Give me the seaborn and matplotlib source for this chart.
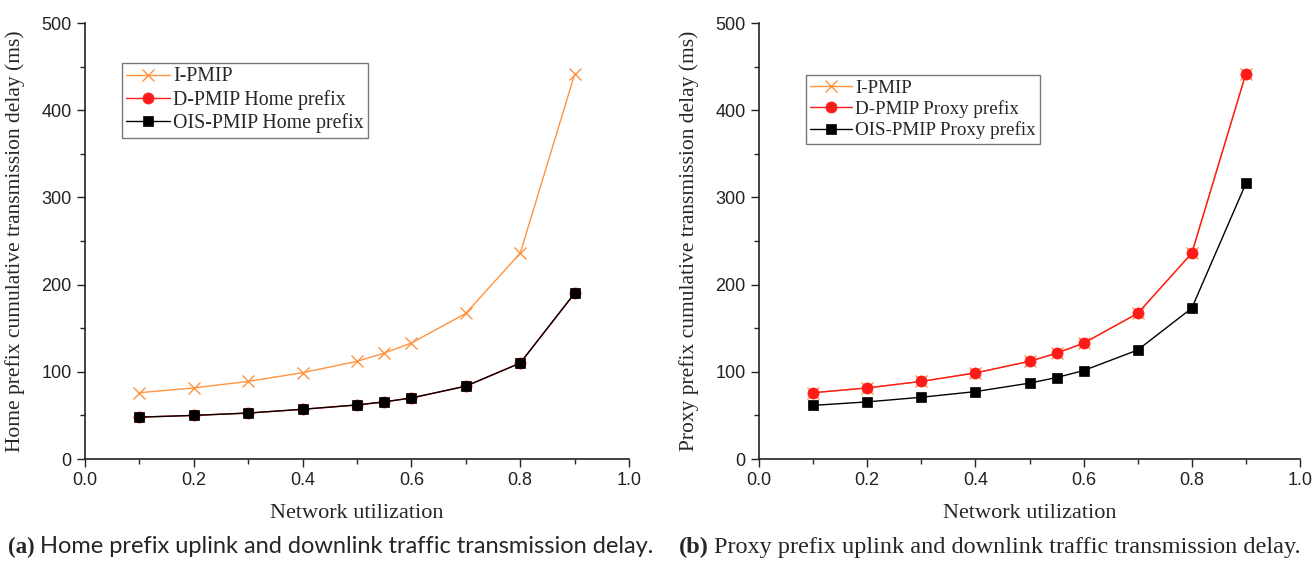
import matplotlib
matplotlib.use("Agg")
import matplotlib.pyplot as plt
import seaborn as sns
import pandas as pd
from matplotlib.ticker import MultipleLocator, FormatStrFormatter

utilization = [0.1, 0.2, 0.3, 0.4, 0.5, 0.55, 0.6, 0.7, 0.8, 0.9]

# Panel (a) Home prefix
i_pmip_home = [76, 81.5, 89, 99, 112, 121.5, 133, 167, 236, 441]
d_pmip_home = [48, 50, 52.7, 57, 62, 65.5, 70, 83.5, 110, 190]
ois_pmip_home = [48, 50, 52.7, 57, 62, 65.5, 70, 83.5, 110, 190]

# Panel (b) Proxy prefix
i_pmip_proxy = [76, 81.5, 89, 98.7, 112, 121.3, 132.8, 167, 236, 442]
d_pmip_proxy = [76, 81.5, 89, 98.7, 112, 121.3, 132.8, 167, 236, 442]
ois_pmip_proxy = [61.5, 65.5, 70.8, 77.3, 87, 93.4, 101.4, 125, 173, 316]

labels_home = ["I-PMIP", "D-PMIP Home prefix", "OIS-PMIP Home prefix"]
labels_proxy = ["I-PMIP", "D-PMIP Proxy prefix", "OIS-PMIP Proxy prefix"]
ylabels = ["Home prefix cumulative transmission delay (ms)",
           "Proxy prefix cumulative transmission delay (ms)"]
xlabel = "Network utilization"

sns.set_theme(style="ticks")
plt.rcParams["font.family"] = ["Liberation Sans", "DejaVu Sans"]

SERIF = ["Liberation Serif", "DejaVu Serif"]

fig = plt.figure(figsize=(13.14, 5.63), dpi=100)
ax1 = fig.add_axes([85 / 1314, 104 / 563, 544 / 1314, 436 / 563])
ax2 = fig.add_axes([759 / 1314, 104 / 563, 541 / 1314, 436 / 563])

styles = [
    dict(color="#FF9340", marker="x", markersize=9, markeredgewidth=1.0, linewidth=1.0),
    dict(color="#FF1A1A", marker="o", markersize=8, markeredgewidth=0.5, linewidth=1.0),
    dict(color="#000000", marker="s", markersize=7, markeredgewidth=0.5, linewidth=1.0),
]

panels = [
    (ax1, [i_pmip_home, d_pmip_home, ois_pmip_home], labels_home, ylabels[0], (0.068, 0.908), 14.3),
    (ax2, [i_pmip_proxy, d_pmip_proxy, ois_pmip_proxy], labels_proxy, ylabels[1], (0.087, 0.880), 13.7),
]

for ax, series, labels, ylab, legpos, legsize in panels:
    for vals, lab, st in zip(series, labels, styles):
        df = pd.DataFrame({"x": utilization, "y": vals})
        sns.lineplot(data=df, x="x", y="y", ax=ax, label=lab, color=st["color"],
                     marker=st["marker"], markersize=st["markersize"],
                     markeredgewidth=st["markeredgewidth"], linewidth=st["linewidth"],
                     markeredgecolor=st["color"], markerfacecolor=st["color"])
    ax.set_xlim(0, 1.0)
    ax.set_ylim(0, 500)
    ax.xaxis.set_major_locator(MultipleLocator(0.2))
    ax.xaxis.set_minor_locator(MultipleLocator(0.1))
    ax.yaxis.set_major_locator(MultipleLocator(100))
    ax.yaxis.set_minor_locator(MultipleLocator(50))
    ax.xaxis.set_major_formatter(FormatStrFormatter("%.1f"))
    ax.tick_params(axis="both", which="major", direction="out", length=6, width=1.0,
                   pad=3.5, labelsize=13, colors="#222222")
    ax.tick_params(axis="both", which="minor", direction="out", length=3.5, width=1.0)
    for s in ["top", "right"]:
        ax.spines[s].set_visible(False)
    for s in ["left", "bottom"]:
        ax.spines[s].set_linewidth(1.2)
        ax.spines[s].set_color("#222222")
    ax.set_xlabel(xlabel, family=SERIF, fontsize=16, labelpad=10.5)
    ax.set_ylabel(ylab, family=SERIF, fontsize=15.5, labelpad=12)
    leg = ax.legend(loc="upper left", bbox_to_anchor=legpos, prop={"family": SERIF, "size": legsize},
                    frameon=True, fancybox=False, borderpad=0.22, labelspacing=0.18,
                    handlelength=2.2, handletextpad=0.15, borderaxespad=0)
    leg.get_frame().set_edgecolor("#555555")
    leg.get_frame().set_linewidth(1.0)

# Captions
fig.text(8 / 1314, 10 / 563, "(a)", family=SERIF, fontweight="bold", fontsize=16.5, ha="left", va="baseline")
fig.text(40 / 1314, 10 / 563, "Home prefix uplink and downlink traffic transmission delay.",
         family=["Lato", "DejaVu Sans"], fontsize=17, ha="left", va="baseline")
fig.text(679 / 1314, 10 / 563, "(b)", family=SERIF, fontweight="bold", fontsize=17.5, ha="left", va="baseline")
fig.text(714 / 1314, 10 / 563, "Proxy prefix uplink and downlink traffic transmission delay.",
         family=SERIF, fontsize=17.5, ha="left", va="baseline")

fig.savefig("out.png", dpi=100)
